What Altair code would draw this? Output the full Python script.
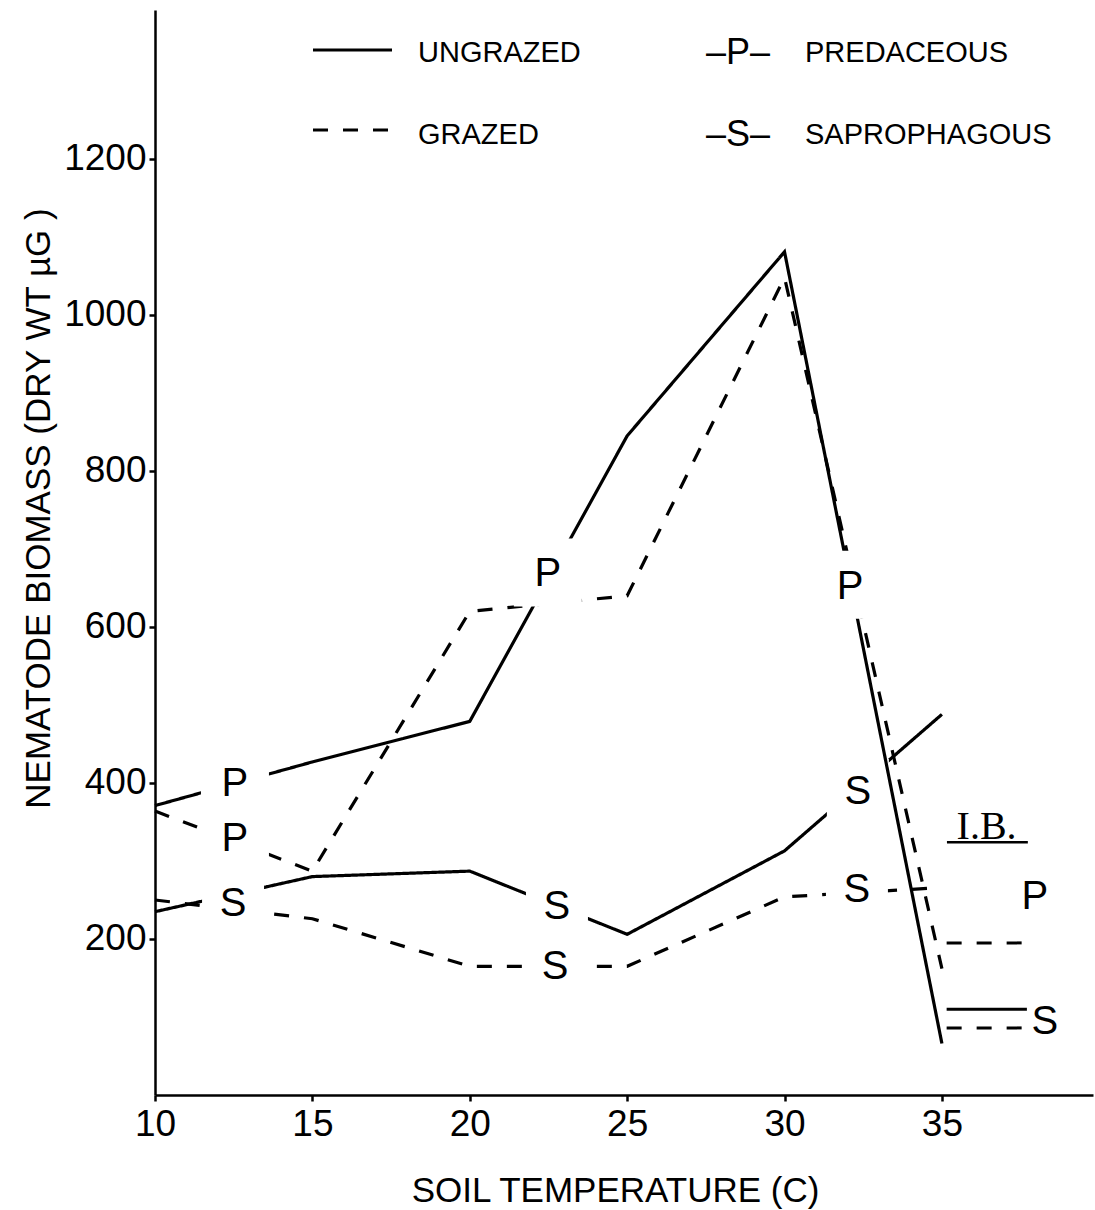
import altair as alt
import pandas as pd

# Nematode biomass (dry wt, µg) by soil temperature
temps = [10, 15, 20, 25, 30, 35]
pred_ungrazed = [371, 427, 479, 845, 1081, 66]
pred_grazed = [364, 287, 620, 640, 1048, 162]
sap_ungrazed = [235, 280, 287, 206, 313, 488]
sap_grazed = [250, 226, 165, 165, 254, 266]

# In-line guild labels (P = predaceous, S = saprophagous)
label_text = ["P", "P", "S", "P", "S", "S", "P", "S", "S"]
label_x = [12.54, 12.54, 12.48, 22.48, 22.77, 22.71, 32.08, 32.33, 32.30]
label_y = [401, 331, 247, 670, 244, 167, 654, 391, 265]

# Initial biomass (I.B.) reference levels
ib_grazing = ["Grazed", "Ungrazed", "Grazed"]
ib_values = [195, 110, 86]
ib_from, ib_to = 35.15, 37.7
ib_text = ["I.B.", "P", "S"]
ib_text_x = [36.42, 37.95, 38.27]
ib_text_y = [343, 256, 96]
ib_underline = [35.16, 37.73, 324]

FONT = "Liberation Sans"
DASH = [15, 15]

rows = []
for guild, grazing, vals in [
    ("P", "Ungrazed", pred_ungrazed),
    ("P", "Grazed", pred_grazed),
    ("S", "Ungrazed", sap_ungrazed),
    ("S", "Grazed", sap_grazed),
]:
    for t, v in zip(temps, vals):
        rows.append({"temp": t, "biomass": v, "guild": guild,
                     "grazing": grazing, "series": guild + grazing})
lines_df = pd.DataFrame(rows)

labels_df = pd.DataFrame({"text": label_text, "temp": label_x, "biomass": label_y})

x_scale = alt.Scale(domain=[10, 39.8], nice=False, zero=False)
y_scale = alt.Scale(domain=[0, 1391], nice=False)
dash_scale = alt.Scale(domain=["Ungrazed", "Grazed"], range=[[1, 0], DASH])

x_axis = alt.Axis(
    values=temps, format="d", title="SOIL TEMPERATURE (C)", grid=False,
    labelFont=FONT, labelFontSize=37, labelColor="black", labelPadding=5,
    labelFlush=False, labelOverlap=False,
    tickSize=6, tickWidth=2.5, tickColor="black",
    domainWidth=2.5, domainColor="black",
    titleFont=FONT, titleFontSize=35, titleFontWeight="normal", titleColor="black",
    titleX=460, titleY=95, titleAlign="center", titleBaseline="middle",
)
y_axis = alt.Axis(
    values=[200, 400, 600, 800, 1000, 1200], format="d",
    title="NEMATODE BIOMASS (DRY WT µG )", grid=False,
    labelFont=FONT, labelFontSize=37, labelColor="black", labelPadding=3,
    labelFlush=False, labelOverlap=False,
    tickSize=6, tickWidth=2.5, tickColor="black",
    domainWidth=2.5, domainColor="black",
    titleFont=FONT, titleFontSize=35, titleFontWeight="normal", titleColor="black",
    titleAngle=270, titleX=-117, titleY=498, titleAlign="center", titleBaseline="middle",
)

base = alt.Chart(lines_df)


def series_lines(guild):
    return base.transform_filter(alt.datum.guild == guild).mark_line(
        color="black", strokeWidth=3.2, strokeCap="butt"
    ).encode(
        x=alt.X("temp:Q", scale=x_scale, axis=x_axis),
        y=alt.Y("biomass:Q", scale=y_scale, axis=y_axis),
        strokeDash=alt.StrokeDash("grazing:N", scale=dash_scale, legend=None),
        detail="series:N",
    )


def label_gaps(guild, side):
    return alt.Chart(labels_df).transform_filter(alt.datum.text == guild).mark_point(
        shape="square", filled=True, color="white", opacity=1, size=side * side
    ).encode(x=alt.X("temp:Q", scale=x_scale), y=alt.Y("biomass:Q", scale=y_scale))


label_marks = alt.Chart(labels_df).mark_text(
    font=FONT, fontSize=40, color="black", align="center", baseline="middle", dy=2
).encode(x=alt.X("temp:Q", scale=x_scale), y=alt.Y("biomass:Q", scale=y_scale), text="text:N")

# I.B. reference lines
ib_df = pd.DataFrame({"grazing": ib_grazing, "biomass": ib_values,
                      "x0": [ib_from] * 3, "x1": [ib_to] * 3})
ib_rules = alt.Chart(ib_df).mark_rule(color="black", strokeWidth=3, strokeCap="butt").encode(
    x=alt.X("x0:Q", scale=x_scale), x2="x1:Q",
    y=alt.Y("biomass:Q", scale=y_scale),
    strokeDash=alt.StrokeDash("grazing:N", scale=dash_scale, legend=None),
)
ib_under_df = pd.DataFrame({"x0": [ib_underline[0]], "x1": [ib_underline[1]], "y": [ib_underline[2]]})
ib_under = alt.Chart(ib_under_df).mark_rule(color="black", strokeWidth=2.5).encode(
    x=alt.X("x0:Q", scale=x_scale), x2="x1:Q", y=alt.Y("y:Q", scale=y_scale)
)
ib_text_df = pd.DataFrame({"text": ib_text, "temp": ib_text_x, "biomass": ib_text_y})
ib_title = alt.Chart(ib_text_df.iloc[:1]).mark_text(
    font="Liberation Serif", fontSize=40, color="black", align="center", baseline="middle"
).encode(x=alt.X("temp:Q", scale=x_scale), y=alt.Y("biomass:Q", scale=y_scale), text="text:N")
ib_letters = alt.Chart(ib_text_df.iloc[1:]).mark_text(
    font=FONT, fontSize=40, color="black", align="center", baseline="middle", dy=2
).encode(x=alt.X("temp:Q", scale=x_scale), y=alt.Y("biomass:Q", scale=y_scale), text="text:N")

# Key drawn inside the plot area
one = pd.DataFrame({"k": [0]})


def key_sample(y, dash):
    return alt.Chart(one).mark_rule(color="black", strokeWidth=3, strokeDash=dash,
                                    strokeCap="butt").encode(
        x=alt.value(158), x2=alt.value(237), y=alt.value(y))


def key_text(txt, x, y, size):
    return alt.Chart(one).mark_text(
        text=txt, font=FONT, fontSize=size, color="black", align="left", baseline="alphabetic"
    ).encode(x=alt.value(x), y=alt.value(y))


key = alt.layer(
    key_sample(40, [1, 0]),
    key_text("UNGRAZED", 263, 52, 29),
    key_sample(120, DASH),
    key_text("GRAZED", 263, 134, 29),
    key_text("–P–", 551, 54, 36),
    key_text("PREDACEOUS", 650, 52, 29),
    key_text("–S–", 551, 136, 36),
    key_text("SAPROPHAGOUS", 650, 134, 29),
)

chart = alt.layer(
    series_lines("S"),
    label_gaps("S", 62),
    series_lines("P"),
    label_gaps("P", 68),
    label_marks,
    ib_rules,
    ib_under,
    ib_title,
    ib_letters,
    key,
).properties(
    width=938, height=1085,
    autosize=alt.AutoSizeParams(type="none"),
    padding={"left": 155, "top": 10, "right": 2, "bottom": 115},
    background="white",
).configure_view(stroke=None)

chart.save("out.html", embed_options={"renderer": "svg", "actions": False})
